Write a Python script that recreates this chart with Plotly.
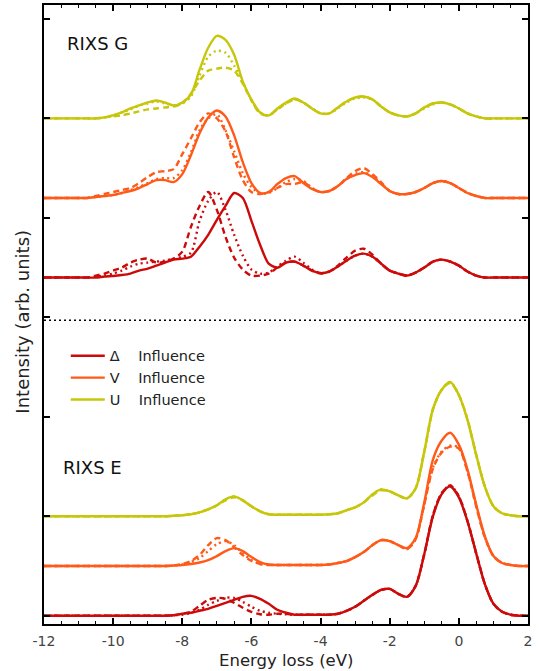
import plotly.graph_objects as go

# Energy-loss grid (eV), shared by every spectrum
energy = [-12 + 0.25 * i for i in range(57)]

# ---- RIXS G spectra (intensity above each curve's own baseline) ----
g_delta_solid = [0, 0, 0, 0,  0, 0, 0, 0.01,  0.015, 0.025, 0.04, 0.07,  0.09, 0.12, 0.15, 0.18,
                 0.19, 0.21, 0.31, 0.43,  0.58, 0.72, 0.85, 0.80,  0.57, 0.33, 0.14, 0.10,
                 0.15, 0.16, 0.12, 0.07,  0.045, 0.06, 0.11, 0.17,  0.22, 0.24, 0.21, 0.14,
                 0.07, 0.04, 0.02, 0.05,  0.10, 0.16, 0.18, 0.16,  0.12, 0.06, 0.02, 0,  0, 0, 0, 0,  0]
g_delta_dash = [0, 0, 0, 0,  0, 0, 0.02, 0.04,  0.07, 0.10, 0.15, 0.18,  0.19, 0.15, 0.16, 0.19,
                0.26, 0.51, 0.72, 0.86,  0.68, 0.41, 0.20, 0.08,  0.02, 0.02, 0.04, 0.10,
                0.15, 0.16, 0.12, 0.07,  0.04, 0.06, 0.12, 0.20,  0.27, 0.29, 0.23, 0.14,
                0.07, 0.04, 0.02, 0.05,  0.10, 0.16, 0.18, 0.16,  0.12, 0.06, 0.02, 0,  0, 0, 0, 0,  0]
g_delta_dot = [0, 0, 0, 0,  0, 0, 0.01, 0.02,  0.04, 0.07, 0.11, 0.14,  0.15, 0.16, 0.17, 0.19,
               0.21, 0.25, 0.57, 0.77,  0.86, 0.68, 0.43, 0.22,  0.08, 0.04, 0.05, 0.11,
               0.17, 0.21, 0.15, 0.08,  0.045, 0.06, 0.11, 0.17,  0.22, 0.24, 0.21, 0.14,
               0.07, 0.04, 0.02, 0.05,  0.10, 0.16, 0.18, 0.16,  0.12, 0.06, 0.02, 0,  0, 0, 0, 0,  0]

g_v_solid = [0, 0, 0, 0,  0, 0, 0.01, 0.02,  0.03, 0.05, 0.07, 0.10,  0.14, 0.18, 0.18, 0.16,
             0.24, 0.43, 0.65, 0.81,  0.88, 0.82, 0.63, 0.36,  0.15, 0.05, 0.06, 0.14,
             0.20, 0.22, 0.15, 0.09,  0.06, 0.07, 0.12, 0.19,  0.23, 0.25, 0.21, 0.14,
             0.07, 0.04, 0.04, 0.06,  0.10, 0.15, 0.17, 0.15,  0.10, 0.05, 0.02, 0,  0, 0, 0, 0,  0]
g_v_dash = [0, 0, 0, 0,  0, 0, 0.02, 0.04,  0.06, 0.08, 0.10, 0.15,  0.21, 0.26, 0.27, 0.29,
            0.44, 0.60, 0.76, 0.85,  0.80, 0.67, 0.41, 0.18,  0.06, 0.04, 0.06, 0.10,
            0.14, 0.14, 0.16, 0.10,  0.06, 0.07, 0.12, 0.20,  0.27, 0.30, 0.24, 0.16,
            0.07, 0.04, 0.04, 0.06,  0.10, 0.15, 0.17, 0.15,  0.10, 0.05, 0.02, 0,  0, 0, 0, 0,  0]
g_v_dot = [0, 0, 0, 0,  0, 0, 0.01, 0.02,  0.03, 0.05, 0.08, 0.11,  0.15, 0.19, 0.20, 0.20,
           0.28, 0.46, 0.68, 0.80,  0.84, 0.68, 0.47, 0.25,  0.11, 0.05, 0.05, 0.10,
           0.16, 0.19, 0.17, 0.10,  0.06, 0.07, 0.12, 0.19,  0.24, 0.26, 0.22, 0.15,
           0.07, 0.04, 0.04, 0.06,  0.10, 0.15, 0.17, 0.15,  0.10, 0.05, 0.02, 0,  0, 0, 0, 0,  0]

g_u_solid = [0, 0, 0, 0,  0, 0, 0, 0.01,  0.03, 0.06, 0.10, 0.13,  0.16, 0.18, 0.16, 0.13,
             0.16, 0.24, 0.49, 0.71,  0.83, 0.79, 0.64, 0.37,  0.19, 0.06, 0.03, 0.10,
             0.16, 0.20, 0.16, 0.10,  0.05, 0.05, 0.11, 0.17,  0.21, 0.22, 0.19, 0.12,
             0.06, 0.03, 0.02, 0.05,  0.11, 0.15, 0.16, 0.14,  0.10, 0.05, 0.02, 0,  0, 0, 0, 0,  0]
g_u_dash = [0, 0, 0, 0,  0, 0, 0, 0.01,  0.02, 0.03, 0.05, 0.07,  0.09, 0.10, 0.11, 0.12,
            0.15, 0.25, 0.38, 0.48,  0.50, 0.51, 0.48, 0.35,  0.18, 0.05, 0.03, 0.09,
            0.15, 0.19, 0.16, 0.10,  0.05, 0.05, 0.11, 0.17,  0.21, 0.22, 0.19, 0.12,
            0.06, 0.03, 0.02, 0.05,  0.11, 0.15, 0.16, 0.14,  0.10, 0.05, 0.02, 0,  0, 0, 0, 0,  0]
g_u_dot = [0, 0, 0, 0,  0, 0, 0, 0.01,  0.03, 0.06, 0.09, 0.13,  0.15, 0.17, 0.15, 0.13,
           0.15, 0.22, 0.43, 0.62,  0.68, 0.66, 0.53, 0.36,  0.18, 0.06, 0.03, 0.09,
           0.15, 0.19, 0.16, 0.10,  0.05, 0.05, 0.10, 0.16,  0.20, 0.21, 0.19, 0.12,
           0.06, 0.03, 0.02, 0.05,  0.10, 0.14, 0.16, 0.14,  0.10, 0.05, 0.02, 0,  0, 0, 0, 0,  0]

# ---- RIXS E spectra ----
e_delta_solid = [0, 0, 0, 0,  0, 0, 0, 0,  0, 0, 0, 0,  0, 0, 0, 0.005,
                 0.02, 0.03, 0.05, 0.07,  0.10, 0.13, 0.16, 0.19,  0.20, 0.17, 0.12, 0.06,
                 0.03, 0.01, 0.01, 0.01,  0.01, 0.01, 0.02, 0.05,  0.09, 0.15, 0.21, 0.26,
                 0.27, 0.22, 0.19, 0.30,  0.62, 1.00, 1.22, 1.30,  1.19, 0.95, 0.63, 0.32,
                 0.12, 0.04, 0.01, 0,  0]
e_delta_dash = [0, 0, 0, 0,  0, 0, 0, 0,  0, 0, 0, 0,  0, 0, 0, 0.005,
                0.02, 0.04, 0.10, 0.16,  0.18, 0.17, 0.13, 0.08,  0.04, 0.015, 0.01, 0.02,
                0.02, 0.01, 0.01, 0.01,  0.01, 0.01, 0.02, 0.05,  0.09, 0.15, 0.21, 0.26,
                0.27, 0.22, 0.19, 0.30,  0.62, 1.01, 1.23, 1.31,  1.20, 0.95, 0.63, 0.32,
                0.12, 0.04, 0.01, 0,  0]
e_delta_dot = [0, 0, 0, 0,  0, 0, 0, 0,  0, 0, 0, 0,  0, 0, 0, 0.005,
               0.01, 0.03, 0.06, 0.11,  0.15, 0.18, 0.18, 0.14,  0.09, 0.05, 0.03, 0.02,
               0.015, 0.01, 0.01, 0.01,  0.01, 0.01, 0.02, 0.05,  0.09, 0.15, 0.21, 0.26,
               0.27, 0.22, 0.19, 0.30,  0.62, 1.01, 1.23, 1.31,  1.20, 0.95, 0.63, 0.32,
               0.12, 0.04, 0.01, 0,  0]

e_v_solid = [0, 0, 0, 0,  0, 0, 0, 0,  0, 0, 0, 0,  0, 0, 0, 0.005,
             0.01, 0.02, 0.035, 0.06,  0.10, 0.15, 0.18, 0.15,  0.09, 0.04, 0.015, 0.01,
             0.01, 0.01, 0.01, 0.01,  0.01, 0.015, 0.03, 0.05,  0.09, 0.14, 0.21, 0.26,
             0.25, 0.21, 0.18, 0.28,  0.64, 1.07, 1.26, 1.34,  1.22, 0.97, 0.62, 0.30,
             0.10, 0.03, 0.01, 0,  0]
e_v_dash = [0, 0, 0, 0,  0, 0, 0, 0,  0, 0, 0, 0,  0, 0, 0, 0.005,
            0.02, 0.05, 0.11, 0.21,  0.28, 0.26, 0.19, 0.11,  0.05, 0.02, 0.01, 0.01,
            0.01, 0.01, 0.01, 0.01,  0.01, 0.015, 0.03, 0.05,  0.09, 0.14, 0.21, 0.26,
            0.25, 0.21, 0.17, 0.27,  0.62, 0.98, 1.14, 1.20,  1.18, 0.95, 0.60, 0.29,
            0.10, 0.03, 0.01, 0,  0]
e_v_dot = [0, 0, 0, 0,  0, 0, 0, 0,  0, 0, 0, 0,  0, 0, 0, 0.005,
           0.015, 0.04, 0.08, 0.15,  0.22, 0.25, 0.21, 0.13,  0.06, 0.02, 0.01, 0.01,
           0.01, 0.01, 0.01, 0.01,  0.01, 0.015, 0.03, 0.05,  0.09, 0.14, 0.21, 0.26,
           0.25, 0.21, 0.17, 0.27,  0.62, 0.99, 1.15, 1.21,  1.19, 0.95, 0.61, 0.29,
           0.10, 0.03, 0.01, 0,  0]

e_u_solid = [0, 0, 0, 0,  0, 0, 0, 0,  0, 0, 0, 0,  0, 0, 0, 0.005,
             0.01, 0.02, 0.04, 0.07,  0.11, 0.17, 0.20, 0.16,  0.10, 0.05, 0.02, 0.015,
             0.015, 0.015, 0.015, 0.015,  0.015, 0.02, 0.03, 0.06,  0.09, 0.14, 0.22, 0.27,
             0.25, 0.21, 0.18, 0.28,  0.65, 1.08, 1.27, 1.35,  1.22, 0.97, 0.62, 0.30,
             0.10, 0.03, 0.01, 0,  0]
e_u_dash = [0, 0, 0, 0,  0, 0, 0, 0,  0, 0, 0, 0,  0, 0, 0, 0.005,
            0.01, 0.02, 0.04, 0.07,  0.11, 0.16, 0.19, 0.16,  0.10, 0.05, 0.02, 0.015,
            0.015, 0.015, 0.015, 0.015,  0.015, 0.02, 0.03, 0.06,  0.09, 0.14, 0.21, 0.26,
            0.25, 0.21, 0.18, 0.28,  0.65, 1.07, 1.27, 1.34,  1.22, 0.97, 0.62, 0.30,
            0.10, 0.03, 0.01, 0,  0]
e_u_dot = [0, 0, 0, 0,  0, 0, 0, 0,  0, 0, 0, 0,  0, 0, 0, 0.005,
           0.01, 0.02, 0.04, 0.07,  0.11, 0.17, 0.20, 0.16,  0.10, 0.05, 0.02, 0.015,
           0.015, 0.015, 0.015, 0.015,  0.015, 0.02, 0.03, 0.06,  0.09, 0.14, 0.22, 0.27,
           0.25, 0.21, 0.18, 0.28,  0.65, 1.08, 1.27, 1.35,  1.22, 0.97, 0.62, 0.30,
           0.10, 0.03, 0.01, 0,  0]

# Vertical stacking offsets of the spectra
offsets = {
    ("G", "U"): 5.0, ("G", "V"): 4.2, ("G", "D"): 3.4,
    ("E", "U"): 1.0, ("E", "V"): 0.5, ("E", "D"): 0.0,
}
divider_level = 2.97

# Axis ticks
x_tick_values = [-12, -10, -8, -6, -4, -2, 0, 2]
x_tick_labels = ["-12", "-10", "-8", "-6", "-4", "-2", "0", "2"]
y_tick_values = [0, 1, 2, 3, 4, 5, 6]

nb = "\u00a0" * 4
legend_names = {"D": "Δ" + nb + "Influence",
                "V": "V" + nb + "Influence",
                "U": "U" + nb + "Influence"}
colors = {"D": "#cc0a0a", "V": "#ff5a18", "U": "#c6c60a"}
dash_styles = {"solid": "solid", "dash": "6px,4px", "dot": "2px,3.5px"}

spectra = {
    ("G", "D"): {"solid": g_delta_solid, "dash": g_delta_dash, "dot": g_delta_dot},
    ("G", "V"): {"solid": g_v_solid, "dash": g_v_dash, "dot": g_v_dot},
    ("G", "U"): {"solid": g_u_solid, "dash": g_u_dash, "dot": g_u_dot},
    ("E", "D"): {"solid": e_delta_solid, "dash": e_delta_dash, "dot": e_delta_dot},
    ("E", "V"): {"solid": e_v_solid, "dash": e_v_dash, "dot": e_v_dot},
    ("E", "U"): {"solid": e_u_solid, "dash": e_u_dash, "dot": e_u_dot},
}

fig = go.Figure()
for style in ["dot", "dash", "solid"]:
    for key, curves in spectra.items():
        panel, param = key
        base = offsets[key]
        show = (style == "solid" and panel == "E")
        rank = {"D": 1, "V": 2, "U": 3}[param]
        fig.add_trace(go.Scatter(
            x=energy, y=[base + v for v in curves[style]],
            mode="lines",
            line=dict(color=colors[param], width=2.4, dash=dash_styles[style],
                      shape="spline", smoothing=0.8),
            name=legend_names[param], showlegend=show, legendrank=rank,
            hoverinfo="skip",
        ))

fig.add_shape(type="line", xref="paper", x0=0, x1=1, yref="y",
              y0=divider_level, y1=divider_level,
              line=dict(color="black", width=1.6, dash="2px,3px"))

fig.add_annotation(x=-11.4, y=5.75, text="RIXS G", showarrow=False,
                   xanchor="left", yanchor="middle",
                   font=dict(family="DejaVu Sans", size=18, color="#111"))
fig.add_annotation(x=-11.52, y=1.49, text="RIXS E", showarrow=False,
                   xanchor="left", yanchor="middle",
                   font=dict(family="DejaVu Sans", size=18, color="#111"))
# axis titles
fig.add_annotation(xref="paper", yref="paper", x=0.5, y=-0.0585,
                   text="Energy loss (eV)", showarrow=False,
                   xanchor="center", yanchor="middle",
                   font=dict(family="DejaVu Sans", size=16.5, color="#222"))
fig.add_annotation(xref="paper", yref="paper", x=-0.044, y=0.488,
                   text="Intensity (arb. units)", showarrow=False, textangle=-90,
                   xanchor="center", yanchor="middle",
                   font=dict(family="DejaVu Sans", size=18, color="#222"))

axis_common = dict(showline=True, linecolor="black", linewidth=2, mirror="ticks",
                   ticks="inside", tickcolor="black", tickwidth=1.5,
                   showgrid=False, zeroline=False)

fig.update_xaxes(range=[-12, 2], tickvals=x_tick_values, ticktext=x_tick_labels,
                 ticklen=6, ticklabelstandoff=3,
                 minor=dict(dtick=0.5, ticks="inside", ticklen=3, tickcolor="black",
                            tickwidth=1.2, showgrid=False),
                 tickfont=dict(family="DejaVu Sans", size=14, color="#444"),
                 **axis_common)
fig.update_yaxes(range=[-0.083, 6.14], tickvals=y_tick_values, ticklen=6,
                 showticklabels=False, **axis_common)

fig.update_layout(
    width=539, height=671,
    margin=dict(l=44, r=11, t=5, b=47, autoexpand=False),
    paper_bgcolor="white", plot_bgcolor="white",
    showlegend=True,
    legend=dict(x=0.045, y=0.459, xanchor="left", yanchor="top",
                bgcolor="rgba(0,0,0,0)", itemwidth=34, tracegroupgap=0,
                font=dict(family="DejaVu Sans", size=14.5, color="#222")),
)

fig.write_html("out.html")
